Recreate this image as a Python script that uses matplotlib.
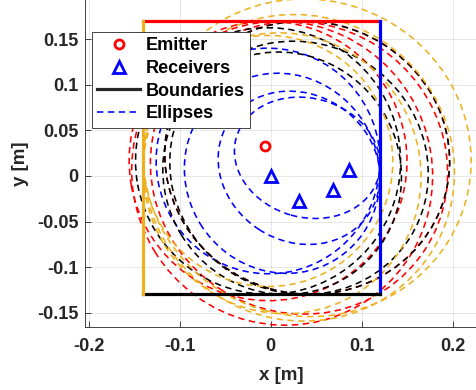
import numpy as np
import matplotlib
matplotlib.use('Agg')
from matplotlib import pyplot as plt
from matplotlib.patches import Ellipse
from matplotlib.lines import Line2D

plt.rcParams['font.family'] = ['Liberation Sans', 'DejaVu Sans']
plt.rcParams['font.weight'] = 'bold'
plt.rcParams['axes.unicode_minus'] = False

# emitter and receivers (m)
emitter_x = -0.006
emitter_y = 0.033
receiver_x = [0.0, 0.031, 0.068, 0.086]
receiver_y = [0.0, -0.027, -0.015, 0.007]

# room boundaries
wall_names = ['top', 'right', 'bottom', 'left']
wall_colors = ['#ff0000', '#0000ff', '#000000', '#edb120']
box_x = [-0.14, 0.12]
box_y = [-0.13, 0.17]

# reflected path length per wall (rows) and receiver (columns), m
path_lengths = [
    [0.307, 0.336, 0.330, 0.314],
    [0.248, 0.223, 0.184, 0.162],
    [0.293, 0.269, 0.288, 0.314],
    [0.276, 0.311, 0.345, 0.361],
]

W, H = 477, 390
fig = plt.figure(figsize=(W / 100, H / 100), dpi=100)
ax = fig.add_axes([85.5 / W, 63.3 / H, 1 - 85.5 / W, 326.7 / H])

dash = (0, (4, 2.8))
lw_e = 1.15

# ellipses: foci at emitter and receiver, major axis = path length
for wi, color in enumerate(wall_colors):
    for ri in range(len(receiver_x)):
        dx = receiver_x[ri] - emitter_x
        dy = receiver_y[ri] - emitter_y
        a = path_lengths[wi][ri] / 2
        c = np.hypot(dx, dy) / 2
        b = np.sqrt(a**2 - c**2)
        cx = (receiver_x[ri] + emitter_x) / 2
        cy = (receiver_y[ri] + emitter_y) / 2
        e = Ellipse((cx, cy), 2 * a, 2 * b, angle=np.degrees(np.arctan2(dy, dx)),
                    fill=False, edgecolor=color, lw=lw_e, linestyle=dash, zorder=2)
        ax.add_patch(e)

# boundaries
lw_b = 2.3
ax.plot(box_x, [box_y[1], box_y[1]], color=wall_colors[0], lw=lw_b, zorder=3)
ax.plot([box_x[1], box_x[1]], box_y, color=wall_colors[1], lw=lw_b, zorder=3)
ax.plot(box_x, [box_y[0], box_y[0]], color=wall_colors[2], lw=lw_b, zorder=3)
ax.plot([box_x[0], box_x[0]], box_y, color=wall_colors[3], lw=lw_b, zorder=3)

ax.plot([emitter_x], [emitter_y], 'o', ms=6.5, mew=2, mfc='none', mec='#ff0000', zorder=4)
ax.plot(receiver_x, receiver_y, '^', ms=8.5, mew=2, mfc='none', mec='#0000ff',
        linestyle='none', zorder=4)

ax.set_xlim(-0.2035, 0.2265)
ax.set_ylim(-0.1656, 0.1934)
ax.set_xticks([-0.2, -0.1, 0, 0.1, 0.2])
ax.set_xticklabels(['-0.2', '-0.1', '0', '0.1', '0.2'])
ax.set_yticks([-0.15, -0.1, -0.05, 0, 0.05, 0.1, 0.15])
ax.set_yticklabels(['-0.15', '-0.1', '-0.05', '0', '0.05', '0.1', '0.15'])
ax.tick_params(direction='in', length=4, width=0.6, colors='#262626', labelsize=13)
ax.tick_params(axis='x', pad=8)
ax.tick_params(axis='y', pad=5)
ax.grid(True, color='#262626', alpha=0.13, lw=0.6)
ax.set_axisbelow(True)
for s in ['top', 'right']:
    ax.spines[s].set_visible(False)
for s in ['left', 'bottom']:
    ax.spines[s].set_color('#262626')
    ax.spines[s].set_linewidth(0.6)
ax.set_xlabel('x [m]', fontsize=13.5, fontweight='bold', color='#262626', labelpad=9)
ax.set_ylabel('y [m]', fontsize=13.5, fontweight='bold', color='#262626', labelpad=6)

handles = [
    Line2D([], [], marker='o', ms=6.5, mew=2, mfc='none', mec='#ff0000', linestyle='none'),
    Line2D([], [], marker='^', ms=8.5, mew=2, mfc='none', mec='#0000ff', linestyle='none'),
    Line2D([], [], color='#262626', lw=lw_b),
    Line2D([], [], color='#0000ff', lw=lw_e, linestyle=dash),
]
leg = ax.legend(handles, ['Emitter', 'Receivers', 'Boundaries', 'Ellipses'],
                loc='upper left', bbox_to_anchor=(91.7 / W, 1 - 31.7 / H),
                bbox_transform=fig.transFigure, borderaxespad=0, fancybox=False,
                framealpha=1, edgecolor='#262626', prop={'size': 13, 'weight': 'bold'},
                handlelength=2.4, handletextpad=0.3, labelspacing=0.32, borderpad=0.3)
leg.get_frame().set_linewidth(0.6)
leg.set_zorder(10)

fig.savefig('out.png', dpi=100)
